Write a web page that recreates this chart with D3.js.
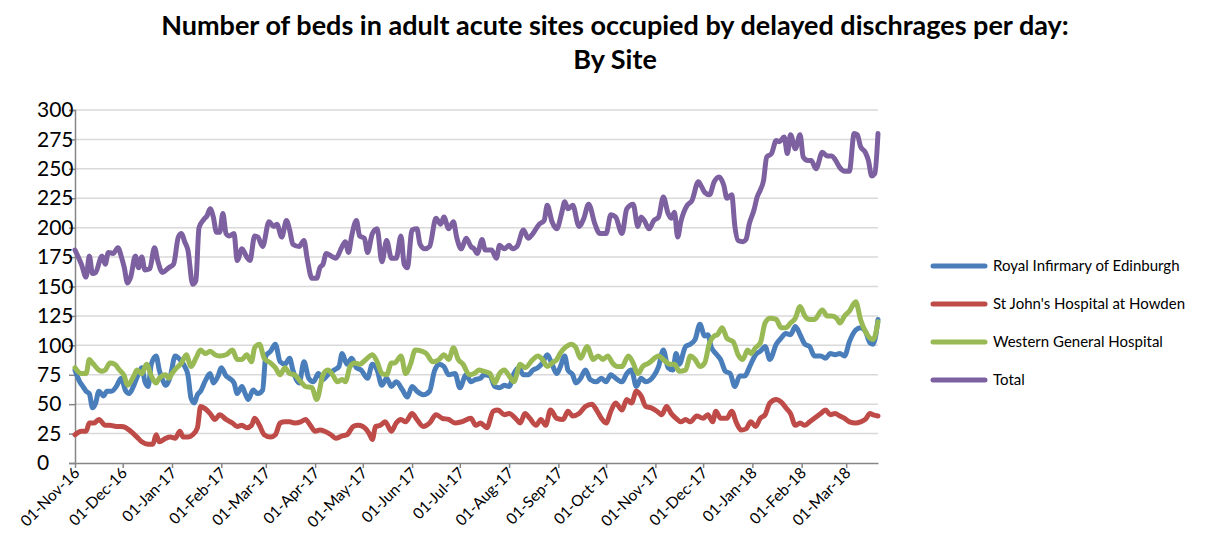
<!DOCTYPE html>
<html>
<head>
<meta charset="utf-8">
<script src="https://cdn.jsdelivr.net/npm/d3@7"></script>
<style>
    body { margin: 0; background: #fff; }
    svg { display: block; font-family: Lato, "Open Sans", sans-serif; }
</style>
</head>
<body>
<div id="chart"></div>
<script>
// day offsets are counted from 01-Nov-16; [day, beds]
const startDate = new Date(2016, 10, 1);
const endDate = new Date(2018, 2, 21);

const seriesNames = ['Royal Infirmary of Edinburgh', "St John's Hospital at Howden", 'Western General Hospital', 'Total'];
const seriesColors = ['#4A7EBB', '#BE4B48', '#98B954', '#7D60A0'];

const yTicks = [0, 25, 50, 75, 100, 125, 150, 175, 200, 225, 250, 275, 300];

const royalInfirmary = [
    [0,79],[3,69],[5,65],[7,61],[9,59],[11,47],[13,51],[15,61],[18,57],[20,61],[23,61],[26,65],[29,72],[32,61],[34,59],
    [37,66],[40,76],[42,81],[44,69],[46,65],[48,84],[51,91],[53,79],[55,71],[57,66],[60,74],[63,91],[66,88],[69,82],
    [71,75],[73,55],[75,51],[77,58],[79,61],[82,70],[85,76],[87,68],[90,74],[92,81],[95,74],[97,72],[100,68],[102,59],
    [105,65],[107,59],[109,54],[112,62],[115,59],[118,62],[120,91],[123,95],[126,101],[129,86],[132,84],[135,89],
    [137,79],[141,68],[144,86],[147,72],[150,69],[153,76],[156,71],[159,75],[163,79],[166,82],[168,93],[171,84],
    [174,89],[177,81],[180,79],[184,72],[187,84],[190,79],[193,66],[196,72],[199,65],[202,69],[206,62],[209,56],
    [212,65],[215,61],[219,58],[223,61],[226,78],[229,84],[232,82],[235,75],[239,76],[242,64],[246,75],[249,69],
    [252,71],[255,72],[257,75],[261,74],[264,65],[267,64],[270,66],[273,65],[276,76],[279,81],[282,75],[285,75],
    [288,79],[291,81],[294,85],[297,92],[300,84],[303,76],[305,81],[308,91],[310,79],[313,75],[315,68],[318,72],
    [321,79],[324,71],[328,69],[331,72],[334,69],[337,75],[340,72],[344,69],[347,76],[350,79],[353,65],[356,72],
    [359,69],[364,74],[367,82],[370,96],[373,81],[376,79],[378,93],[380,84],[384,99],[387,101],[390,105],[393,118],
    [396,108],[398,109],[400,99],[403,93],[406,88],[409,78],[412,76],[415,65],[418,74],[421,74],[425,84],[428,92],
    [431,95],[434,99],[437,88],[441,101],[444,106],[447,110],[450,109],[453,116],[456,109],[459,101],[462,99],
    [465,91],[469,91],[472,89],[475,93],[478,92],[481,93],[484,91],[487,103],[491,113],[494,115],[497,112],
    [500,102],[502,101],[505,122]
];

const stJohns = [
    [0,24],[4,27],[7,27],[9,34],[12,34],[15,37],[19,32],[22,32],[26,31],[29,31],[32,30],[35,27],[39,22],[42,18],
    [46,16],[49,16],[51,24],[53,18],[57,21],[60,22],[63,21],[66,27],[68,22],[71,22],[74,24],[77,30],[79,48],[82,46],
    [85,42],[88,37],[91,41],[95,37],[99,34],[102,31],[105,32],[108,30],[111,32],[113,38],[116,32],[119,24],[123,22],
    [126,24],[129,34],[132,35],[135,35],[138,34],[142,35],[145,37],[148,32],[151,27],[154,28],[157,27],[161,24],
    [164,21],[168,23],[171,24],[175,31],[178,32],[181,31],[185,25],[187,20],[189,31],[192,32],[195,35],[199,27],
    [202,34],[205,37],[208,35],[212,42],[215,37],[219,31],[223,34],[227,41],[231,38],[235,37],[239,34],[243,35],
    [249,38],[252,32],[255,34],[257,32],[259,30],[263,44],[266,45],[270,41],[273,42],[277,38],[280,34],[283,42],
    [286,38],[290,32],[293,37],[296,32],[299,45],[303,38],[307,37],[310,44],[313,40],[317,42],[321,48],[325,50],
    [328,45],[331,38],[334,34],[337,44],[340,51],[344,45],[347,54],[350,51],[353,61],[356,57],[359,48],[362,47],
    [366,44],[369,41],[372,48],[375,42],[378,38],[381,35],[384,37],[387,35],[391,40],[395,38],[398,41],[401,35],
    [403,44],[406,38],[410,38],[413,44],[416,34],[419,28],[422,29],[425,35],[428,31],[431,38],[434,41],[437,51],
    [441,54],[444,52],[447,47],[450,42],[453,32],[456,34],[459,32],[462,35],[465,38],[469,42],[472,45],[475,41],
    [478,42],[481,40],[484,38],[487,35],[491,34],[494,35],[497,37],[500,42],[502,41],[505,40]
];

const westernGeneral = [
    [0,81],[4,76],[7,76],[9,88],[11,85],[15,79],[17,78],[19,79],[22,85],[25,84],[28,79],[31,74],[33,66],[37,74],
    [39,79],[42,76],[45,84],[48,74],[51,68],[53,72],[57,75],[59,72],[61,76],[64,81],[67,85],[70,92],[73,82],[76,89],
    [79,96],[82,93],[85,95],[88,92],[91,91],[95,92],[99,96],[102,88],[105,88],[108,92],[111,86],[113,98],[116,101],
    [119,89],[123,85],[126,81],[129,75],[132,81],[135,76],[138,75],[142,69],[145,65],[149,64],[152,54],[156,75],
    [159,79],[162,75],[165,69],[168,71],[170,69],[173,82],[176,85],[179,84],[183,88],[187,92],[190,86],[193,76],
    [196,75],[199,85],[201,85],[205,91],[208,76],[211,84],[214,96],[218,95],[221,93],[225,86],[229,88],[232,92],
    [235,88],[238,98],[241,88],[244,84],[248,75],[251,76],[254,79],[257,78],[261,76],[264,68],[267,76],[270,79],
    [273,74],[276,69],[280,84],[283,81],[288,88],[291,91],[294,88],[297,82],[300,85],[303,88],[305,93],[309,99],
    [312,101],[315,98],[318,89],[322,99],[326,88],[329,91],[332,88],[335,91],[338,85],[341,82],[344,82],[348,91],
    [351,85],[354,76],[357,82],[361,85],[367,91],[370,88],[374,84],[377,84],[380,78],[384,79],[387,91],[390,88],
    [393,82],[396,85],[399,102],[402,108],[404,109],[407,115],[410,106],[414,103],[417,92],[420,88],[423,96],
    [425,93],[428,98],[431,102],[434,119],[437,123],[441,122],[444,115],[447,115],[450,119],[453,123],[456,133],
    [459,125],[462,122],[465,122],[470,130],[473,125],[476,125],[479,123],[481,119],[484,125],[487,129],[491,137],
    [494,122],[497,112],[500,106],[502,105],[505,120]
];

const total = [
    [0,181],[4,169],[7,158],[9,176],[11,161],[13,162],[17,176],[19,169],[21,179],[24,178],[27,183],[29,176],[31,166],
    [33,153],[35,158],[38,176],[40,166],[42,175],[44,164],[47,165],[50,183],[52,172],[55,162],[59,166],[62,169],
    [65,192],[67,195],[69,188],[71,181],[74,152],[76,155],[78,200],[81,207],[83,210],[85,216],[87,209],[89,196],
    [91,196],[93,212],[95,195],[97,193],[100,195],[102,172],[105,182],[108,175],[110,172],[113,193],[115,192],
    [118,184],[122,205],[125,201],[127,203],[130,192],[133,206],[135,198],[137,186],[141,184],[144,189],[146,174],
    [149,157],[152,157],[154,166],[156,169],[158,178],[161,176],[164,174],[168,184],[170,188],[172,179],[174,193],
    [177,206],[179,193],[182,191],[184,179],[187,195],[190,199],[193,171],[196,189],[199,174],[202,174],[205,193],
    [207,169],[209,166],[212,198],[215,199],[217,186],[220,182],[223,184],[227,208],[230,203],[232,209],[235,199],
    [238,205],[240,192],[243,182],[246,191],[249,184],[251,182],[253,178],[256,190],[258,181],[262,181],[265,174],
    [267,185],[270,182],[273,185],[275,182],[278,184],[282,198],[285,191],[288,195],[292,203],[295,206],[297,219],
    [300,205],[303,199],[306,212],[308,222],[310,216],[313,219],[317,201],[320,208],[323,220],[327,203],[330,195],
    [334,195],[337,211],[340,209],[344,195],[347,216],[351,220],[354,201],[356,209],[358,206],[361,199],[364,206],
    [367,209],[370,226],[373,212],[375,208],[377,213],[379,192],[381,205],[385,219],[388,223],[392,239],[394,235],
    [396,230],[399,228],[402,239],[405,243],[408,236],[410,225],[413,228],[415,201],[417,189],[420,188],[422,190],
    [424,203],[427,215],[429,226],[431,232],[433,240],[435,260],[438,263],[441,274],[443,273],[446,277],[448,263],
    [450,279],[453,267],[456,279],[458,260],[461,257],[463,257],[466,250],[470,264],[473,261],[476,261],[478,258],
    [481,251],[484,248],[487,248],[490,280],[492,279],[494,269],[497,264],[499,257],[501,244],[503,246],[505,280]
];

const allSeries = [royalInfirmary, stJohns, westernGeneral, total];

const svgWidth = 1223;
const svgHeight = 544;

const margin = { top: 110, left: 75, right: 345, bottom: 81 };
const width = svgWidth - margin.left - margin.right;
const height = svgHeight - margin.top - margin.bottom;

const svg = d3.select('#chart').append('svg')
    .attr('width', svgWidth)
    .attr('height', svgHeight);

const x = d3.scaleTime()
    .domain([startDate, endDate])
    .range([0, width]);

const y = d3.scaleLinear()
    .domain([0, 300])
    .range([height, 0]);

const chart = svg.append('g')
    .attr('transform', `translate(${margin.left},${margin.top})`);

// Gridlines
chart.selectAll('line.grid')
    .data(yTicks.filter(d => d > 0))
    .enter()
    .append('line')
    .attr('class', 'grid')
    .attr('x1', 0)
    .attr('x2', width)
    .attr('y1', d => y(d))
    .attr('y2', d => y(d))
    .attr('stroke', '#d9d9d9')
    .attr('stroke-width', 1.5);

// Y axis, labels sit flush left like the original
const yAxis = chart.append('g')
    .call(d3.axisLeft(y).tickValues(yTicks).tickSize(6));
yAxis.select('.domain').attr('stroke', '#868686').attr('stroke-width', 1.5);
yAxis.selectAll('.tick line').attr('stroke', '#868686').attr('stroke-width', 1.5);
yAxis.selectAll('.tick text')
    .attr('font-family', 'Lato, sans-serif')
    .attr('font-size', 21)
    .attr('fill', '#000')
    .attr('text-anchor', 'start')
    .attr('x', 37 - margin.left);

// X axis
const xAxis = chart.append('g')
    .attr('transform', `translate(0,${height})`)
    .call(d3.axisBottom(x).ticks(d3.timeMonth.every(1)).tickFormat(d3.timeFormat('%d-%b-%y')).tickSize(5).tickSizeOuter(0));
xAxis.select('.domain').attr('stroke', '#868686').attr('stroke-width', 1.5);
xAxis.selectAll('.tick line').attr('stroke', '#868686').attr('stroke-width', 1.5);
xAxis.selectAll('.tick text')
    .attr('font-family', 'Lato, sans-serif')
    .attr('font-size', 15.5)
    .attr('fill', '#000')
    .attr('text-anchor', 'end')
    .attr('dy', null)
    .attr('y', 0)
    .attr('transform', 'translate(5,11) rotate(-45)');

// Lines
const line = d3.line()
    .x(d => x(d3.timeDay.offset(startDate, d[0])))
    .y(d => y(d[1]))
    .curve(d3.curveMonotoneX);

chart.selectAll('path.series')
    .data(allSeries)
    .enter()
    .append('path')
    .attr('class', 'series')
    .attr('fill', 'none')
    .attr('stroke', (d, i) => seriesColors[i])
    .attr('stroke-width', 5)
    .attr('stroke-linejoin', 'round')
    .attr('stroke-linecap', 'round')
    .attr('d', line);

// Legend
const legend = svg.append('g')
    .attr('transform', 'translate(933,266)');

const legendItem = legend.selectAll('g')
    .data(seriesNames)
    .enter()
    .append('g')
    .attr('transform', (d, i) => `translate(0,${i * 38})`);

legendItem.append('line')
    .attr('x1', 0)
    .attr('x2', 52)
    .attr('stroke', (d, i) => seriesColors[i])
    .attr('stroke-width', 5)
    .attr('stroke-linecap', 'round');

legendItem.append('text')
    .attr('x', 60)
    .attr('dy', '0.35em')
    .attr('font-size', 15)
    .text(d => d);

// Title
svg.append('text')
    .attr('x', 615)
    .attr('y', 35)
    .attr('text-anchor', 'middle')
    .attr('font-size', 27)
    .attr('font-weight', 'bold')
    .text('Number of beds in adult acute sites occupied by delayed dischrages per day:');

svg.append('text')
    .attr('x', 615)
    .attr('y', 69)
    .attr('text-anchor', 'middle')
    .attr('font-size', 27)
    .attr('font-weight', 'bold')
    .text('By Site');
</script>
</body>
</html>
